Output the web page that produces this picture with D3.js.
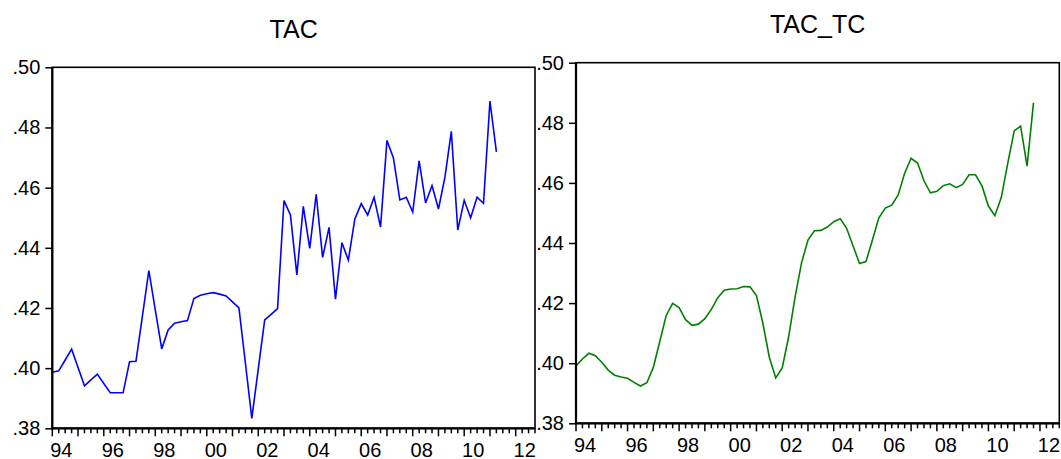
<!DOCTYPE html>
<html>
<head>
<meta charset="utf-8">
<script src="https://cdn.jsdelivr.net/npm/d3@7"></script>
<style>
  html, body { margin: 0; padding: 0; background: #fff; }
  svg { display: block; font-family: "Liberation Sans", Arial, sans-serif; }
</style>
</head>
<body>
<svg id="chart" width="1061" height="459"></svg>
<script>
// Quarterly series, first observation 1994Q1
const startYear = 1994;

const tac = [
  0.3986, 0.3991, 0.4027, 0.4063, 0.4002, 0.3941, 0.3961, 0.3980,
  0.3949, 0.3918, 0.3918, 0.3918, 0.4021, 0.4023, 0.4173, 0.4324,
  0.4194, 0.4064, 0.4127, 0.4149, 0.4154, 0.4158, 0.4231, 0.4242,
  0.4247, 0.4251, 0.4246, 0.4240, 0.4220, 0.4200, 0.4017, 0.3833,
  0.3997, 0.4160, 0.4179, 0.4198, 0.4557, 0.4509, 0.4310, 0.4538,
  0.4398, 0.4578, 0.4368, 0.4468, 0.4229, 0.4417, 0.4359, 0.4495,
  0.4547, 0.4509, 0.4568, 0.4469, 0.4757, 0.4699, 0.4559, 0.4568,
  0.4519, 0.4689, 0.4549, 0.4607, 0.4529, 0.4634, 0.4787, 0.4459,
  0.4558, 0.4500, 0.4568, 0.4548, 0.4888, 0.4719
];

const tacTc = [
  0.3991, 0.4014, 0.4033, 0.4025, 0.4003, 0.3977, 0.3960, 0.3954,
  0.3950, 0.3936, 0.3924, 0.3935, 0.3986, 0.4072, 0.4159, 0.4199,
  0.4185, 0.4145, 0.4126, 0.4130, 0.4148, 0.4179, 0.4218, 0.4243,
  0.4247, 0.4248, 0.4255, 0.4254, 0.4225, 0.4133, 0.4020, 0.3951,
  0.3984, 0.4088, 0.4221, 0.4334, 0.4410, 0.4441, 0.4442, 0.4453,
  0.4471, 0.4481, 0.4449, 0.4390, 0.4332, 0.4338, 0.4410, 0.4484,
  0.4516, 0.4526, 0.4560, 0.4632, 0.4682, 0.4666, 0.4607, 0.4567,
  0.4572, 0.4591, 0.4597, 0.4584, 0.4595, 0.4627, 0.4627, 0.4590,
  0.4523, 0.4491, 0.4552, 0.4665, 0.4773, 0.4789, 0.4656, 0.4867
];

const yTicks = [0.38, 0.40, 0.42, 0.44, 0.46, 0.48, 0.50];
const yearLabels = ["94", "96", "98", "00", "02", "04", "06", "08", "10", "12"];
const labelYears = [1994, 1996, 1998, 2000, 2002, 2004, 2006, 2008, 2010, 2012];

const svg = d3.select("#chart");
const fmtY = v => d3.format(".2f")(v).replace(/^0/, "");

function panel(cfg) {
  const { left, right, top, bottom, values, color, title, titleY } = cfg;
  const g = svg.append("g");

  const x = d3.scaleLinear().domain([1994, 2012.75]).range([left, right]);
  const y = d3.scaleLinear().domain([0.38, 0.50]).range([bottom, top]);

  // Title
  g.append("text")
    .attr("x", (left + right) / 2)
    .attr("y", titleY)
    .attr("text-anchor", "middle")
    .attr("font-size", 25)
    .attr("fill", "#000")
    .text(title);

  // Y axis: ticks pointing outward, labels like ".40"
  const yAxis = d3.axisLeft(y)
    .tickValues(yTicks)
    .tickSize(7)
    .tickPadding(5)
    .tickFormat(fmtY);
  const ya = g.append("g").attr("transform", `translate(${left},0)`).call(yAxis);
  ya.select(".domain").remove();
  ya.selectAll(".tick line").attr("stroke", "#000").attr("stroke-width", 1.5);
  ya.selectAll(".tick text")
    .attr("font-size", 20)
    .attr("font-family", "Liberation Sans, Arial, sans-serif")
    .attr("fill", "#000");

  // X axis: quarterly minor ticks, yearly major ticks
  const quarterTicks = d3.range(0, 76).map(i => startYear + i / 4).filter(v => v <= 2012.75);
  const xa = g.append("g").attr("transform", `translate(0,${bottom})`);
  xa.selectAll("line.q")
    .data(quarterTicks)
    .join("line")
    .attr("class", "q")
    .attr("x1", d => x(d)).attr("x2", d => x(d))
    .attr("y1", 0)
    .attr("y2", d => (Math.abs(d - Math.round(d)) < 1e-6 ? 8 : 5))
    .attr("stroke", "#000")
    .attr("stroke-width", 1.5);

  xa.selectAll("text.yl")
    .data(labelYears)
    .join("text")
    .attr("class", "yl")
    .attr("x", d => x(d) + 9)
    .attr("y", 28.5)
    .attr("text-anchor", "middle")
    .attr("font-size", 20)
    .attr("fill", "#000")
    .text((d, i) => yearLabels[i]);

  // Series line
  const line = d3.line()
    .x((d, i) => x(startYear + i / 4))
    .y(d => y(d));
  g.append("path")
    .datum(values)
    .attr("d", line)
    .attr("fill", "none")
    .attr("stroke", color)
    .attr("stroke-width", 1.6)
    .attr("stroke-linejoin", "miter");

  // Frame
  g.append("rect")
    .attr("x", left).attr("y", top)
    .attr("width", right - left).attr("height", bottom - top)
    .attr("fill", "none")
    .attr("stroke", "#000")
    .attr("stroke-width", 1.6);
  g.append("line")
    .attr("x1", left).attr("x2", left).attr("y1", top).attr("y2", bottom + 1)
    .attr("stroke", "#000").attr("stroke-width", 2.2);
  g.append("line")
    .attr("x1", left - 1).attr("x2", right).attr("y1", bottom).attr("y2", bottom)
    .attr("stroke", "#000").attr("stroke-width", 2.2);
}

panel({ left: 52.3, right: 535, top: 67.3, bottom: 428.3,
        values: tac, color: "#0000ff", title: "TAC", titleY: 38 });
panel({ left: 576, right: 1059.3, top: 62.7, bottom: 423.3,
        values: tacTc, color: "#008000", title: "TAC_TC", titleY: 33 });
</script>
</body>
</html>
